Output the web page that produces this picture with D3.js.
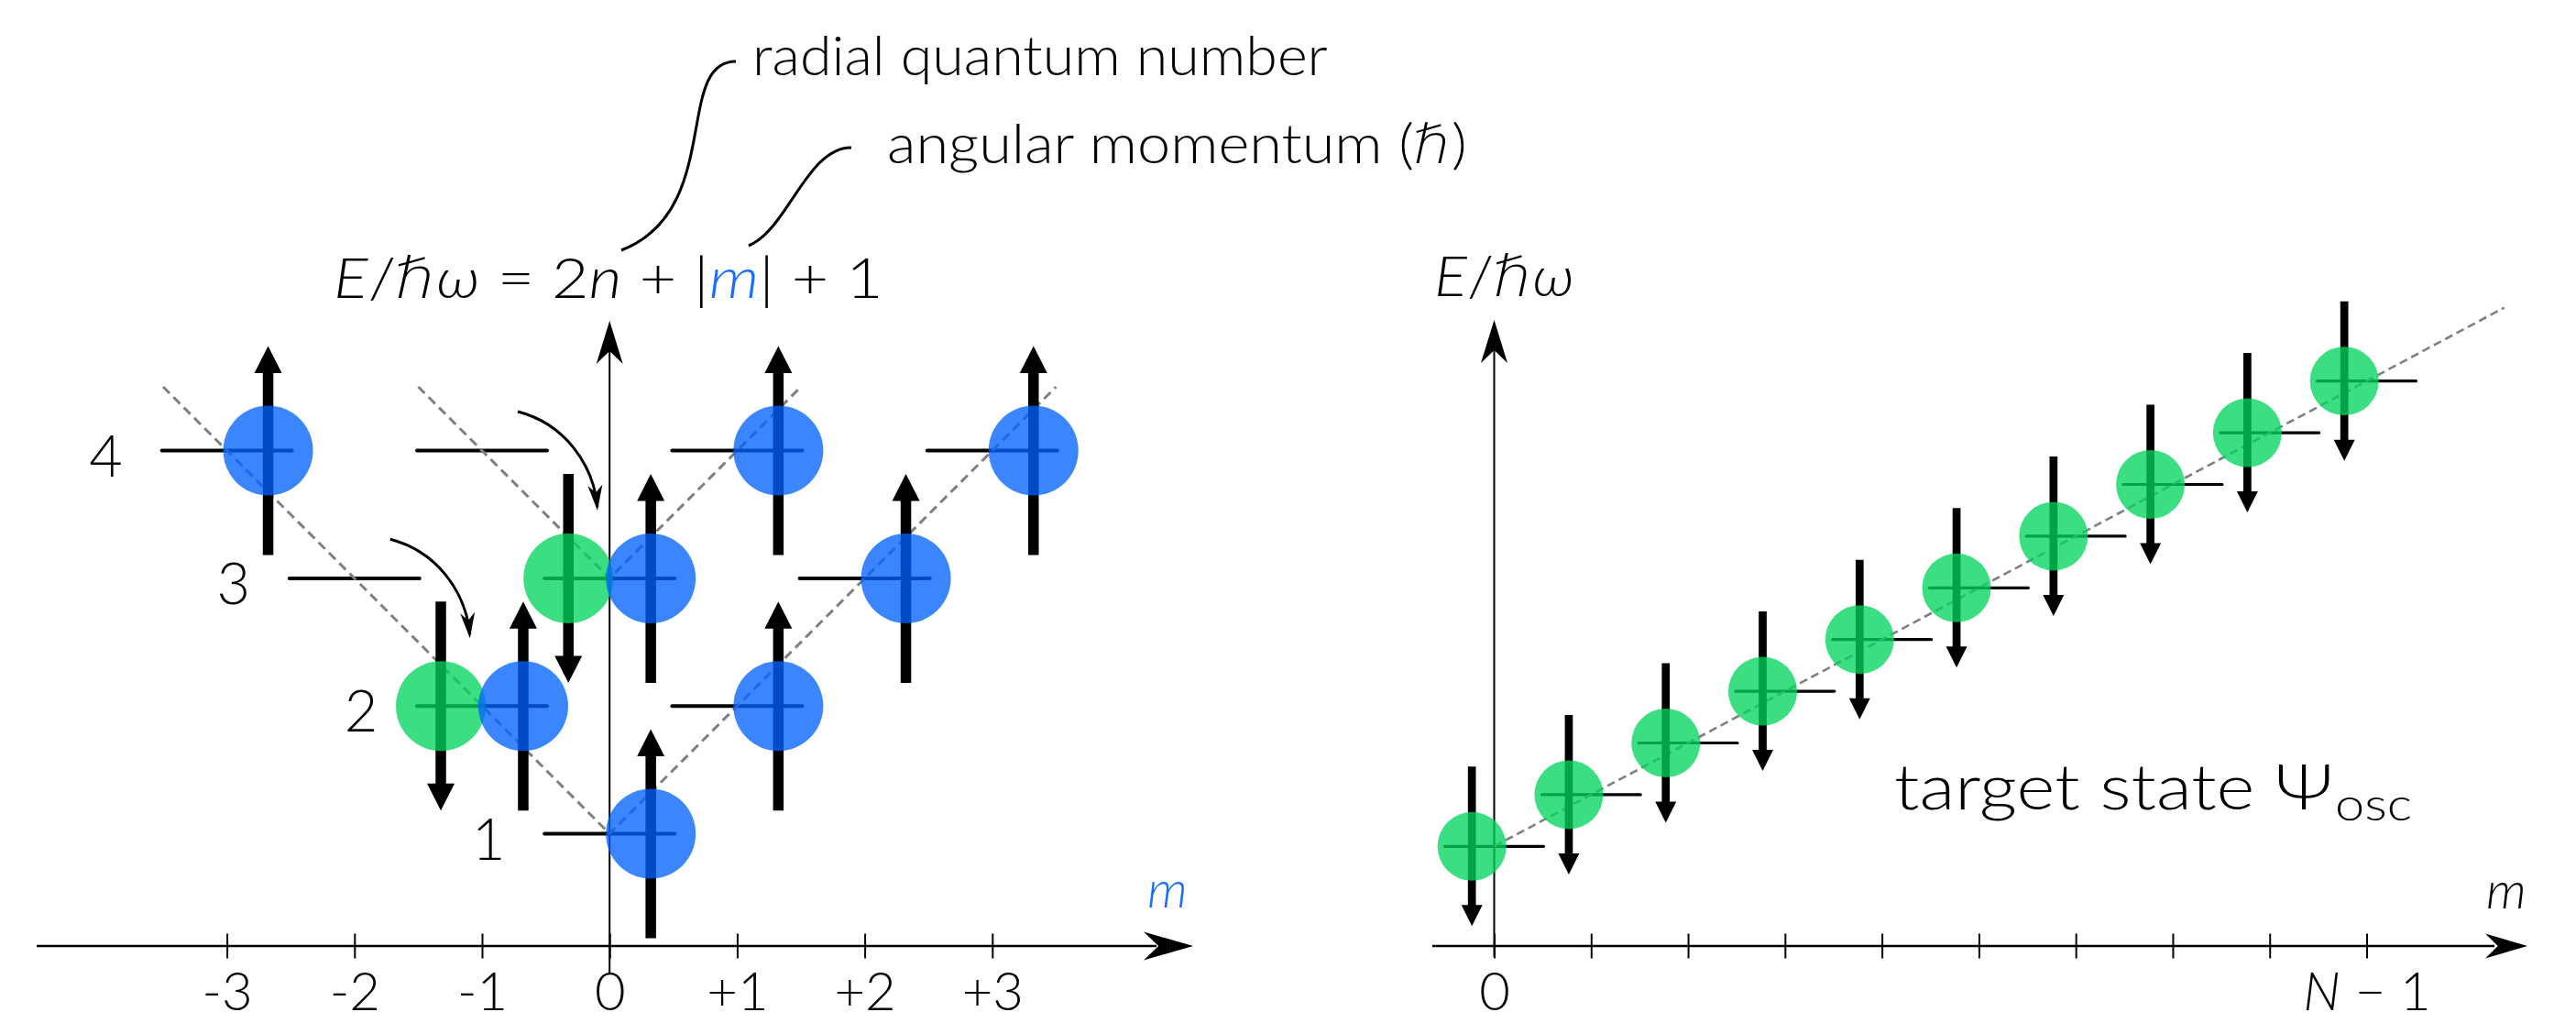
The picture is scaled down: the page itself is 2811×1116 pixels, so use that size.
<!DOCTYPE html>
<html><head><meta charset="utf-8">
<script src="https://cdn.jsdelivr.net/npm/d3@7"></script>
<style>
html,body{margin:0;padding:0;background:#fff;}
svg{display:block;}
text{font-family:Lato,"DejaVu Sans",sans-serif;font-weight:300;fill:#000;}
.hbar{font-family:"DejaVu Sans",sans-serif;font-style:normal;font-weight:200;}
</style></head><body>
<svg id="c" width="2811" height="1116"></svg>
<script>
// ---------------- data ----------------
// left panel: 2D oscillator levels E = 2n + |m| + 1
const leftTicks = [-3, -2, -1, 0, 1, 2, 3];
const leftTickLabels = ["-3", "-2", "-1", "0", "+1", "+2", "+3"];
const levelE = [1, 2, 2, 3, 3, 3, 4, 4, 4, 4];
const levelM = [0, -1, 1, -2, 0, 2, -3, -1, 1, 3];
const levelLabels = [1, 2, 3, 4];
const spinUpE = [1, 2, 2, 3, 3, 4, 4, 4];
const spinUpM = [0, -1, 1, 0, 2, -3, 1, 3];
const spinDownE = [2, 3];
const spinDownM = [-1, 0];
const hopFromE = [3, 4];
const hopFromM = [-2, -1];
const radialN = [0, 1];
const branchTopE = 4.5;

// right panel: target state, one spin-down atom per m
const rightM = [0, 1, 2, 3, 4, 5, 6, 7, 8, 9];
const rightE = [1, 2, 3, 4, 5, 6, 7, 8, 9, 10];
const rightTickLabels = ["0", "", "", "", "", "", "", "", "", "N − 1"];
const rightGuideEndM = 10.42;

// texts
const annotRadial = "radial quantum number";
const annotAngularA = "angular momentum (";
const annotAngularB = ")";
const targetText = "target state Ψ";
const targetSub = "osc";

// ---------------- setup ----------------
const svg = d3.select("#c");
const BLUE = "rgb(0,98,255)", GREEN = "rgb(0,212,90)", OP = 0.77;
const MBLUE = "#1a6eff";
const TICK_BASE = 1102;

const xL = d3.scaleLinear().domain([0, 1]).range([665.2, 804.4]);
const yL = d3.scaleLinear().domain([1, 4]).range([909.5, 491.6]);
const xR = d3.scaleLinear().domain([0, 9]).range([1630.5, 2582.5]);
const yR = d3.scaleLinear().domain([1, 10]).range([923.3, 415.7]);
const uL = xL(1) - xL(0), uR = xR(1) - xR(0);

function stealth(tx, ty, ang, L, W, notch) {
  const c = Math.cos(ang), s = Math.sin(ang);
  const p = (a, b) => [tx + a * c - b * s, ty + a * s + b * c];
  const pts = [p(0, 0), p(-L, -W / 2), p(-L * (1 - notch), 0), p(-L, W / 2)];
  return "M" + pts.map(q => q.join(",")).join("L") + "Z";
}

function fit(sel, x0, width) {
  const bb = sel.node().getBBox();
  const s = width / bb.width;
  sel.attr("transform", `translate(${x0 - bb.x * s},0) scale(${s},1)`);
}

const gAxes = svg.append("g");
const gLevels = svg.append("g");
const gGuides = svg.append("g");
const gDeco = svg.append("g");
const gSpins = svg.append("g");
const gDots = svg.append("g");
const gText = svg.append("g");

// ---------------- left axes ----------------
const axisY0 = 1032;
const axL = d3.axisBottom(xL).tickValues(leftTicks)
  .tickFormat((d, i) => leftTickLabels[i]).tickSize(27).tickPadding(0);
const gAxL = gAxes.append("g").attr("transform", `translate(0,${axisY0 - 13.5})`).call(axL);
gAxL.select(".domain").remove();
gAxL.selectAll(".tick line").attr("stroke", "#000").attr("stroke-width", 2);
gAxL.selectAll(".tick text").attr("y", TICK_BASE - (axisY0 - 13.5)).attr("dy", 0)
  .style("font-size", "58px").style("font-family", "Lato,'DejaVu Sans',sans-serif")
  .style("font-weight", 300).attr("fill", "#000");

gAxes.append("line").attr("x1", 40).attr("x2", 1262).attr("y1", axisY0).attr("y2", axisY0)
  .attr("stroke", "#000").attr("stroke-width", 2.5);
gAxes.append("path").attr("d", stealth(1302, axisY0, 0, 54, 31, 0.3)).attr("fill", "#000");
gAxes.append("line").attr("x1", xL(0)).attr("x2", xL(0)).attr("y1", 1062).attr("y2", 380)
  .attr("stroke", "#000").attr("stroke-width", 2);
gAxes.append("path").attr("d", stealth(xL(0), 350, -Math.PI / 2, 47, 29, 0.3)).attr("fill", "#000");

// ---------------- right axes ----------------
const axR = d3.axisBottom(xR).tickValues(rightM)
  .tickFormat((d, i) => rightTickLabels[i]).tickSize(27).tickPadding(0);
const gAxR = gAxes.append("g").attr("transform", `translate(0,${axisY0 - 13.5})`).call(axR);
gAxR.select(".domain").remove();
gAxR.selectAll(".tick line").attr("stroke", "#000").attr("stroke-width", 2);
gAxR.selectAll(".tick text").attr("y", TICK_BASE - (axisY0 - 13.5)).attr("dy", 0)
  .style("font-size", "58px").style("font-family", "Lato,'DejaVu Sans',sans-serif")
  .style("font-weight", 300).attr("fill", "#000")
  .each(function (d, i) {
    const lab = rightTickLabels[i];
    if (lab.startsWith("N")) {
      const t = d3.select(this).text("");
      t.append("tspan").style("font-style", "italic").text("N");
      t.append("tspan").text(lab.slice(1));
    }
  });

gAxes.append("line").attr("x1", 1563).attr("x2", 2722).attr("y1", axisY0).attr("y2", axisY0)
  .attr("stroke", "#000").attr("stroke-width", 2.5);
gAxes.append("path").attr("d", stealth(2758, axisY0, 0, 46, 27, 0.3)).attr("fill", "#000");
gAxes.append("line").attr("x1", xR(0)).attr("x2", xR(0)).attr("y1", 1044).attr("y2", 380)
  .attr("stroke", "#000").attr("stroke-width", 2);
gAxes.append("path").attr("d", stealth(xR(0), 349, -Math.PI / 2, 47, 29, 0.3)).attr("fill", "#000");

// ---------------- left levels ----------------
const halfW = 0.51;
levelE.forEach((E, i) => {
  const m = levelM[i];
  gLevels.append("line")
    .attr("x1", xL(m - halfW)).attr("x2", xL(m + halfW))
    .attr("y1", yL(E)).attr("y2", yL(E))
    .attr("stroke", "#000").attr("stroke-width", 4).attr("stroke-linecap", "round");
});
levelLabels.forEach(E => {
  gText.append("text").attr("x", xL(-(E - 1)) - 132).attr("y", yL(E) + 28)
    .attr("text-anchor", "middle").style("font-size", "63px").text(E);
});

// dashed guides
const guideLine = d3.line().x(d => xL(d[0])).y(d => yL(d[1]));
radialN.forEach(n => {
  const w = branchTopE - (2 * n + 1);
  const pts = [[-w, branchTopE], [0, 2 * n + 1], [w, branchTopE]];
  gGuides.append("path").attr("d", guideLine(pts)).attr("fill", "none")
    .attr("stroke", "#808080").attr("stroke-width", 3).attr("stroke-dasharray", "10,6");
});

// hop arrows
hopFromE.forEach((E, i) => {
  const cx = xL(hopFromM[i]), cy = yL(E);
  const P0 = [cx + 0.28 * uL, cy - 0.306 * uL];
  const P1 = [cx + 0.64 * uL, cy - 0.213 * uL];
  const P2 = [cx + 0.87 * uL, cy + 0.096 * uL];
  const P3 = [cx + 0.905 * uL, cy + 0.44 * uL];
  const tip = [cx + 0.905 * uL, cy + 0.47 * uL];
  gDeco.append("path")
    .attr("d", `M${P0}C${P1} ${P2} ${P3}`).attr("fill", "none")
    .attr("stroke", "#000").attr("stroke-width", 3);
  const ang = Math.atan2(tip[1] - P2[1], tip[0] - P2[0]);
  gDeco.append("path").attr("d", stealth(tip[0], tip[1], ang, 28, 16, 0.3)).attr("fill", "#000");
});

// spin arrows and atoms
function spin(g, cx, cy, dir, p) {
  const tipY = cy - dir * p.half, tailY = cy + dir * p.half, baseY = tipY + dir * p.head;
  g.append("line").attr("x1", cx).attr("x2", cx).attr("y1", tailY).attr("y2", baseY + dir * -1)
    .attr("stroke", "#000").attr("stroke-width", p.shaft);
  g.append("path").attr("d", `M${cx},${tipY}L${cx - p.headW / 2},${baseY}L${cx + p.headW / 2},${baseY}Z`)
    .attr("fill", "#000");
}
const pL = { half: 114, head: 29.5, headW: 30, shaft: 11.5, r: 49, off: 0.323 };
const pR = { half: 87, head: 23, headW: 23, shaft: 8.7, r: 37.5, off: -0.23 };

spinDownE.forEach((E, i) => {
  const cx = xL(spinDownM[i] - pL.off), cy = yL(E);
  spin(gSpins, cx, cy, -1, pL);
  gDots.append("circle").attr("cx", cx).attr("cy", cy).attr("r", pL.r)
    .attr("fill", GREEN).attr("fill-opacity", OP);
});
spinUpE.forEach((E, i) => {
  const cx = xL(spinUpM[i] + pL.off), cy = yL(E);
  spin(gSpins, cx, cy, 1, pL);
  gDots.append("circle").attr("cx", cx).attr("cy", cy).attr("r", pL.r)
    .attr("fill", BLUE).attr("fill-opacity", OP);
});

// ---------------- right panel ----------------
gGuides.append("path")
  .attr("d", d3.line().x(d => xR(d[0])).y(d => yR(d[1]))([[0, 1], [rightGuideEndM, rightGuideEndM + 1]]))
  .attr("fill", "none").attr("stroke", "#808080").attr("stroke-width", 2.6).attr("stroke-dasharray", "9,5");
rightM.forEach((m, i) => {
  const E = rightE[i];
  gLevels.append("line").attr("x1", xR(m - halfW)).attr("x2", xR(m + halfW))
    .attr("y1", yR(E)).attr("y2", yR(E))
    .attr("stroke", "#000").attr("stroke-width", 3.2).attr("stroke-linecap", "round");
  const cx = xR(m + pR.off), cy = yR(E);
  spin(gSpins, cx, cy, -1, pR);
  gDots.append("circle").attr("cx", cx).attr("cy", cy).attr("r", pR.r)
    .attr("fill", GREEN).attr("fill-opacity", OP);
});

// ---------------- texts ----------------
// formula  E/ħω = 2n + |m| + 1
const fT = gText.append("text").attr("x", 0).attr("y", 325).style("font-size", "62px");
[["E", "i"], ["/", ""], ["ℏ", "h"], ["ω", "i"], [" = 2", ""], ["n", "i"],
 [" + |", ""], ["m", "m"], ["| + 1", ""]].forEach(p => {
  const t = fT.append("tspan").text(p[0]);
  if (p[1] === "i") t.style("font-style", "italic");
  if (p[1] === "m") t.style("font-style", "italic").style("fill", MBLUE);
  if (p[1] === "h") t.attr("class", "hbar");
});
fit(fT, 364, 600);

// annotations
const aR = gText.append("text").attr("x", 0).attr("y", 82).style("font-size", "59px").text(annotRadial);
fit(aR, 821, 628);
const aA = gText.append("text").attr("x", 0).attr("y", 178).style("font-size", "59px");
aA.append("tspan").text(annotAngularA);
aA.append("tspan").attr("class", "hbar").text("ℏ");
aA.append("tspan").text(annotAngularB);
fit(aA, 968, 633);

gDeco.append("path").attr("d", "M678,273C790,230 735,67 803,67").attr("fill", "none")
  .attr("stroke", "#000").attr("stroke-width", 3);
gDeco.append("path").attr("d", "M817,268C860,250 880,161 929,161").attr("fill", "none")
  .attr("stroke", "#000").attr("stroke-width", 3);

// axis labels
gText.append("text").attr("x", 1252).attr("y", 990).style("font-size", "56px")
  .style("font-style", "italic").style("fill", MBLUE).text("m");
gText.append("text").attr("x", 2713).attr("y", 991).style("font-size", "56px")
  .style("font-style", "italic").text("m");
const eT = gText.append("text").attr("x", 0).attr("y", 323).style("font-size", "62px");
eT.append("tspan").style("font-style", "italic").text("E");
eT.append("tspan").text("/");
eT.append("tspan").attr("class", "hbar").text("ℏ");
eT.append("tspan").style("font-style", "italic").text("ω");
fit(eT, 1565, 153);

// target state
const tT = gText.append("text").attr("x", 0).attr("y", 883).style("font-size", "68px").text(targetText);
fit(tT, 2067, 479);
const tS = gText.append("text").attr("x", 0).attr("y", 895).style("font-size", "50px").text(targetSub);
fit(tS, 2548, 84);
</script>
</body></html>
